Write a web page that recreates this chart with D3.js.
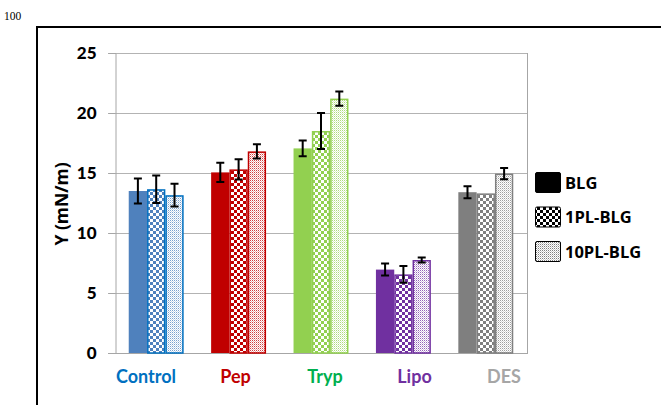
<!DOCTYPE html>
<html>
<head>
<meta charset="utf-8">
<script src="https://cdn.jsdelivr.net/npm/d3@7"></script>
<style>
  html, body { margin: 0; padding: 0; background: #fff; }
  svg { display: block; }
</style>
</head>
<body>
<svg id="chart" width="661" height="405"></svg>
<script>
// Surface tension Y (mN/m) per treatment and protein form
const categories = ["Control", "Pep", "Tryp", "Lipo", "DES"];
const seriesNames = ["BLG", "1PL-BLG", "10PL-BLG"];
const valuesBLG = [13.5, 15.05, 17.05, 6.95, 13.4];
const values1PL = [13.65, 15.3, 18.5, 6.55, 13.3];
const values10PL = [13.15, 16.8, 21.2, 7.75, 14.95];
const errorsBLG = [1.05, 0.8, 0.65, 0.5, 0.5];
const errors1PL = [1.15, 0.85, 1.5, 0.7, 0];
const errors10PL = [0.95, 0.6, 0.6, 0.2, 0.47];
const yTicks = [0, 5, 10, 15, 20, 25];
const pageLabel = "100";
const yTitle = "Y (mN/m)";

const seriesValues = [valuesBLG, values1PL, values10PL];
const seriesErrors = [errorsBLG, errors1PL, errors10PL];

const fillColors = ["#4F81BD", "#C00000", "#92D050", "#7030A0", "#7F7F7F"];
const edgeColors = ["#0070C0", "#C00000", "#92D050", "#7030A0", "#7F7F7F"];
const labelColors = ["#0070C0", "#C00000", "#00B050", "#7030A0", "#A6A6A6"];

const svg = d3.select("#chart");
const plot = { left: 115, right: 527, top: 53, bottom: 353 };

// Fill patterns: solid, coarse checkerboard, fine dotted
const defs = svg.append("defs");
function checker(id, color) {
  const p = defs.append("pattern").attr("id", id)
    .attr("patternUnits", "userSpaceOnUse").attr("width", 6).attr("height", 6);
  p.append("rect").attr("width", 6).attr("height", 6).attr("fill", "#fff");
  p.append("rect").attr("width", 3).attr("height", 3).attr("fill", color);
  p.append("rect").attr("x", 3).attr("y", 3).attr("width", 3).attr("height", 3).attr("fill", color);
}
function dotted(id, color) {
  const p = defs.append("pattern").attr("id", id)
    .attr("patternUnits", "userSpaceOnUse").attr("width", 2).attr("height", 2);
  p.append("rect").attr("width", 2).attr("height", 2).attr("fill", "#fff");
  p.append("rect").attr("width", 1).attr("height", 1).attr("fill", color).attr("opacity", 0.75);
  p.append("rect").attr("x", 1).attr("y", 1).attr("width", 1).attr("height", 1).attr("fill", color).attr("opacity", 0.3);
}
categories.forEach((c, i) => {
  checker("chk" + i, fillColors[i]);
  dotted("dot" + i, fillColors[i]);
});
checker("chkLegend", "#000");
dotted("dotLegend", "#555");

const x = d3.scaleBand().domain(categories)
  .range([plot.left, plot.right]).paddingInner(1 / 3).paddingOuter(1 / 6);
const xs = d3.scaleBand().domain(seriesNames).range([0, x.bandwidth()]);
const y = d3.scaleLinear().domain([0, 25]).range([plot.bottom, plot.top]);

// Page number and outer frame
svg.append("text").attr("x", 4).attr("y", 20)
  .attr("font-family", "Liberation Serif").attr("font-size", 11.5).text(pageLabel);
svg.append("path").attr("d", "M37,405 V27 H661")
  .attr("fill", "none").attr("stroke", "#000").attr("stroke-width", 2);

// Gridlines
svg.append("g").selectAll("line").data(yTicks.filter(t => t > 0)).join("line")
  .attr("x1", plot.left - 7).attr("x2", plot.right)
  .attr("y1", d => Math.round(y(d)) + 0.5).attr("y2", d => Math.round(y(d)) + 0.5)
  .attr("stroke", "#B3B3B3").attr("stroke-width", 1);

// Left axis with tick labels
const yAxis = svg.append("g").attr("transform", `translate(${plot.left + 0.5},0)`)
  .call(d3.axisLeft(y).tickValues(yTicks).tickSize(7).tickPadding(12));
yAxis.select(".domain").attr("stroke", "#A6A6A6");
yAxis.selectAll(".tick line").attr("stroke", "#A6A6A6");
yAxis.selectAll(".tick text").attr("font-family", "Lato").attr("font-weight", 900)
  .attr("font-size", 17).attr("fill", "#000");

// Plot area right edge and baseline
svg.append("line").attr("x1", plot.right + 0.5).attr("x2", plot.right + 0.5)
  .attr("y1", plot.top).attr("y2", plot.bottom).attr("stroke", "#A6A6A6");
svg.append("line").attr("x1", plot.left - 7).attr("x2", plot.right + 1)
  .attr("y1", plot.bottom + 0.5).attr("y2", plot.bottom + 0.5).attr("stroke", "#A6A6A6");

// Bars
const barData = [];
categories.forEach((c, i) => {
  seriesNames.forEach((s, j) => {
    barData.push({ c, i, s, j, v: seriesValues[j][i], e: seriesErrors[j][i] });
  });
});
const fillFor = d => d.j === 0 ? fillColors[d.i] : `url(#${d.j === 1 ? "chk" : "dot"}${d.i})`;
svg.append("g").selectAll("rect").data(barData).join("rect")
  .attr("x", d => x(d.c) + xs(d.s) + (d.j === 0 ? 0 : 0.75))
  .attr("width", d => xs.bandwidth() - (d.j === 0 ? 0 : 1.5))
  .attr("y", d => y(d.v) + (d.j === 0 ? 0 : 0.75))
  .attr("height", d => y(0) - y(d.v) - (d.j === 0 ? 0 : 0.75))
  .attr("fill", fillFor)
  .attr("stroke", d => d.j === 0 ? "none" : edgeColors[d.i])
  .attr("stroke-width", 1.5);

// Error bars
const eb = svg.append("g").attr("stroke", "#000").attr("stroke-width", 2).attr("fill", "none");
barData.filter(d => d.e > 0).forEach(d => {
  const cx = x(d.c) + xs(d.s) + xs.bandwidth() / 2;
  const y1 = y(d.v + d.e), y2 = y(d.v - d.e);
  eb.append("path").attr("d",
    `M${cx - 4},${y1} H${cx + 4} M${cx},${y1} V${y2} M${cx - 4},${y2} H${cx + 4}`);
});

// Category labels
const labelX = d3.scaleLinear().domain([0, 4]).range([146, 504]);
svg.append("g").selectAll("text").data(categories).join("text")
  .attr("x", (d, i) => labelX(i)).attr("y", 383)
  .attr("text-anchor", "middle").attr("font-family", "Lato").attr("font-weight", 700)
  .attr("font-size", 18).attr("fill", (d, i) => labelColors[i]).text(d => d);

// Y axis title
svg.append("text").attr("transform", "translate(68,204) rotate(-90)")
  .attr("text-anchor", "middle").attr("font-family", "Open Sans").attr("font-weight", 700)
  .attr("font-size", 17.5).attr("fill", "#000").text(yTitle);

// Legend
const legendFills = ["#000", "url(#chkLegend)", "url(#dotLegend)"];
const legendRows = d3.scaleLinear().domain([0, 2]).range([172, 241]);
const lg = svg.append("g");
seriesNames.forEach((s, j) => {
  const ly = legendRows(j);
  lg.append("rect").attr("x", 535.5).attr("y", ly + 0.5).attr("width", 25).attr("height", 20)
    .attr("rx", 1.5).attr("fill", legendFills[j]).attr("stroke", "#000").attr("stroke-width", 1);
  lg.append("text").attr("x", 565).attr("y", ly + 16.5)
    .attr("font-family", "Open Sans").attr("font-weight", 700).attr("font-size", 16.5)
    .attr("fill", "#000").text(s);
});
</script>
</body>
</html>
